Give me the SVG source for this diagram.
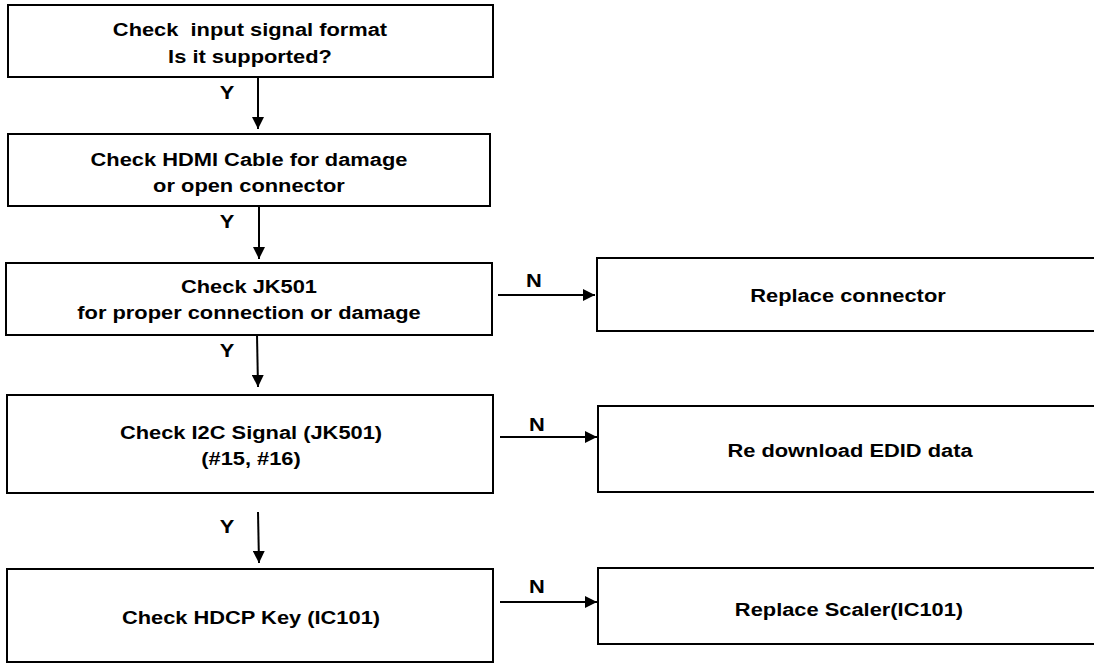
<svg xmlns="http://www.w3.org/2000/svg" width="1094" height="664" viewBox="0 0 1094 664">
<style>
  .box { fill: #ffffff; stroke: #000000; stroke-width: 2; }
  .lbl { font-family: "Liberation Sans", Arial, sans-serif; font-weight: bold; font-size: 19px; fill: #000000; text-anchor: middle; white-space: pre; }
  .yn { font-family: "Liberation Sans", Arial, sans-serif; font-weight: bold; font-size: 19px; fill: #000000; text-anchor: middle; }
  .conn { stroke: #000000; stroke-width: 2; fill: none; marker-end: url(#arr); }
</style>
<defs>
  <marker id="arr" markerUnits="userSpaceOnUse" markerWidth="12" markerHeight="12" refX="12" refY="6" orient="auto">
    <path d="M0,0 L12,6 L0,12 z" fill="#000000"/>
  </marker>
</defs>
<rect width="1094" height="664" fill="#ffffff"/>

<g id="n1">
  <rect class="box" x="8" y="5" width="485" height="72"/>
  <text class="lbl" xml:space="preserve" transform="translate(250,36) scale(1.15,1)">Check  input signal format</text>
  <text class="lbl" transform="translate(250,63) scale(1.15,1)">Is it supported?</text>
</g>
<g id="n2">
  <rect class="box" x="8" y="134" width="482" height="72"/>
  <text class="lbl" transform="translate(249,166) scale(1.15,1)">Check HDMI Cable for damage</text>
  <text class="lbl" transform="translate(249,192) scale(1.15,1)">or open connector</text>
</g>
<g id="n3">
  <rect class="box" x="6" y="263" width="486" height="72"/>
  <text class="lbl" transform="translate(249,293) scale(1.15,1)">Check JK501</text>
  <text class="lbl" transform="translate(249,319) scale(1.15,1)">for proper connection or damage</text>
</g>
<g id="n4">
  <rect class="box" x="7" y="395" width="486" height="98"/>
  <text class="lbl" transform="translate(251,439) scale(1.15,1)">Check I2C Signal (JK501)</text>
  <text class="lbl" transform="translate(251,465) scale(1.15,1)">(#15, #16)</text>
</g>
<g id="n5">
  <rect class="box" x="7" y="569" width="486" height="93"/>
  <text class="lbl" transform="translate(251,624) scale(1.15,1)">Check HDCP Key (IC101)</text>
</g>
<g id="r1">
  <rect class="box" x="597" y="258" width="520" height="73"/>
  <text class="lbl" transform="translate(848,302) scale(1.15,1)">Replace connector</text>
</g>
<g id="r2">
  <rect class="box" x="598" y="406" width="520" height="86"/>
  <text class="lbl" transform="translate(850,457) scale(1.15,1)">Re download EDID data</text>
</g>
<g id="r3">
  <rect class="box" x="598" y="568" width="520" height="76"/>
  <text class="lbl" transform="translate(849,616) scale(1.15,1)">Replace Scaler(IC101)</text>
</g>

<g id="connectors">
  <line class="conn" x1="258" y1="77" x2="258" y2="129"/>
  <line class="conn" x1="259" y1="206" x2="259" y2="259"/>
  <line class="conn" x1="257" y1="335" x2="258" y2="387"/>
  <line class="conn" x1="258" y1="512" x2="259" y2="563"/>
  <line class="conn" x1="498" y1="295" x2="595" y2="295"/>
  <line class="conn" x1="500" y1="437" x2="597" y2="437"/>
  <line class="conn" x1="500" y1="602" x2="597" y2="602"/>
  <text class="yn" transform="translate(227,99) scale(1.15,1)">Y</text>
  <text class="yn" transform="translate(227,228) scale(1.15,1)">Y</text>
  <text class="yn" transform="translate(227,357) scale(1.15,1)">Y</text>
  <text class="yn" transform="translate(227,533) scale(1.15,1)">Y</text>
  <text class="yn" transform="translate(534,287) scale(1.15,1)">N</text>
  <text class="yn" transform="translate(537,431) scale(1.15,1)">N</text>
  <text class="yn" transform="translate(537,593) scale(1.15,1)">N</text>
</g>
</svg>
